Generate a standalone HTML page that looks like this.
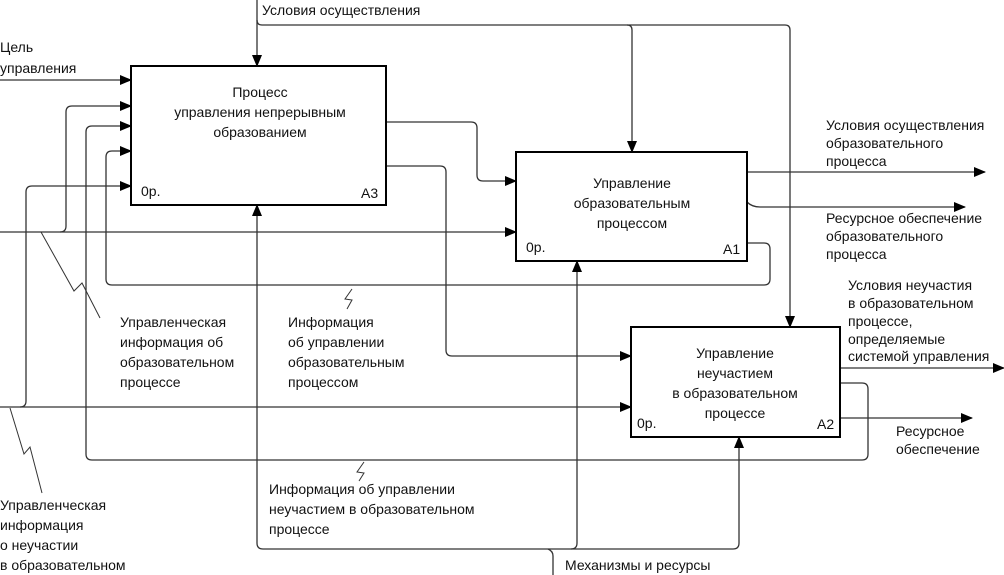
<!DOCTYPE html>
<html><head><meta charset="utf-8"><style>
html,body{margin:0;padding:0;background:#fff;}
svg{display:block;}
text{font-family:"Liberation Sans",sans-serif;font-size:14px;fill:#111;}
</style></head><body>
<svg width="1004" height="575" viewBox="0 0 1004 575" xmlns="http://www.w3.org/2000/svg">
<defs><marker id="a" markerWidth="12" markerHeight="10" refX="11" refY="5" orient="auto" markerUnits="userSpaceOnUse"><path d="M0,0 L12,5 L0,10 z" fill="#000"/></marker></defs>
<g fill="none" stroke="#333" stroke-width="1.3">
<!-- top control -->
<path d="M257,0 V66" marker-end="url(#a)"/>
<path d="M257,20 Q257,25 262,25 H627 Q632,25 632,30 V152" marker-end="url(#a)"/>
<path d="M627,25 H785 Q790,25 790,30 V327" marker-end="url(#a)"/>
<!-- inputs A3 -->
<path d="M0,80 H131" marker-end="url(#a)"/>
<path d="M0,232 H516" marker-end="url(#a)"/>
<path d="M60,232 Q66,232 66,226 V112 Q66,106 72,106 H131" marker-end="url(#a)"/>
<path d="M0,407 H631" marker-end="url(#a)"/>
<path d="M20,407 Q26,407 26,401 V192 Q26,186 32,186 H131" marker-end="url(#a)"/>
<!-- loops -->
<path d="M747,243 H764 Q770,243 770,249 V279 Q770,285 764,285 H112 Q106,285 106,279 V157 Q106,151 112,151 H131" marker-end="url(#a)"/>
<path d="M840,383 H862 Q868,383 868,389 V454 Q868,460 862,460 H92 Q86,460 86,454 V132 Q86,126 92,126 H131" marker-end="url(#a)"/>
<!-- A3 outputs -->
<path d="M386,122 H471 Q477,122 477,128 V175 Q477,181 483,181 H516" marker-end="url(#a)"/>
<path d="M386,166 H440 Q446,166 446,172 V350 Q446,356 452,356 H631" marker-end="url(#a)"/>
<!-- A1 outputs -->
<path d="M747,172 H985" marker-end="url(#a)"/>
<path d="M747,202 Q752,207 760,207 H965" marker-end="url(#a)"/>
<!-- A2 outputs -->
<path d="M840,368 H1004" marker-end="url(#a)"/>
<path d="M840,418 H972" marker-end="url(#a)"/>
<!-- mechanisms -->
<path d="M257,543 V205" marker-end="url(#a)"/>
<path d="M577,543 V261" marker-end="url(#a)"/>
<path d="M739,543 V437" marker-end="url(#a)"/>
<path d="M257,543 Q257,549 263,549 H733 Q739,549 739,543"/>
<path d="M577,543 Q577,549 571,549"/>
<path d="M548,549 Q553,551 553,556 V575"/>
<!-- lightning squiggles -->
<path d="M41,232 L74,291 L82,283 L100,318" stroke-width="1"/>
<path d="M10,408 L24,454 L30,447 L42,493" stroke-width="1"/>
<path d="M352,289 L345,299 L352,300 L347,309" stroke-width="1"/>
<path d="M364,462 L357,472 L364,473 L359,481" stroke-width="1"/>
</g>
<g fill="#fff" stroke="#000" stroke-width="2">
<rect x="131" y="66" width="255" height="139"/>
<rect x="516" y="152" width="231" height="109"/>
<rect x="631" y="327" width="209" height="110"/>
</g>
<g text-anchor="middle">
<text x="260" y="97">Процесс</text>
<text x="260" y="117">управления непрерывным</text>
<text x="260" y="137">образованием</text>
<text x="632" y="188">Управление</text>
<text x="632" y="208">образовательным</text>
<text x="632" y="228">процессом</text>
<text x="735" y="358">Управление</text>
<text x="735" y="378">неучастием</text>
<text x="735" y="398">в образовательном</text>
<text x="735" y="418">процессе</text>
</g>
<text x="141" y="196">0р.</text><text x="361" y="198">A3</text>
<text x="526" y="252">0р.</text><text x="723" y="254">A1</text>
<text x="637" y="428">0р.</text><text x="817" y="429">A2</text>
<text x="262" y="15">Условия осуществления</text>
<text x="0" y="52">Цель</text><text x="0" y="73">управления</text>
<text x="120" y="327">Управленческая</text><text x="120" y="347">информация об</text><text x="120" y="367">образовательном</text><text x="120" y="387">процессе</text>
<text x="288" y="327">Информация</text><text x="288" y="347">об управлении</text><text x="288" y="367">образовательным</text><text x="288" y="387">процессом</text>
<text x="269" y="494">Информация об управлении</text><text x="269" y="514">неучастием в образовательном</text><text x="269" y="534">процессе</text>
<text x="0" y="510">Управленческая</text><text x="0" y="530">информация</text><text x="0" y="550">о неучастии</text><text x="0" y="570">в образовательном</text>
<text x="565" y="570">Механизмы и ресурсы</text>
<g style="font-size:13px">
<text x="826" y="130">Условия осуществления</text><text x="826" y="148">образовательного</text><text x="826" y="166">процесса</text>
<text x="826" y="223">Ресурсное обеспечение</text><text x="826" y="241">образовательного</text><text x="826" y="259">процесса</text>
<text x="848" y="290">Условия неучастия</text><text x="848" y="308">в образовательном</text><text x="848" y="326">процессе,</text><text x="848" y="344">определяемые</text><text x="848" y="361">системой управления</text>
<text x="896" y="436">Ресурсное</text><text x="896" y="454">обеспечение</text>
</g>
</svg>
</body></html>
